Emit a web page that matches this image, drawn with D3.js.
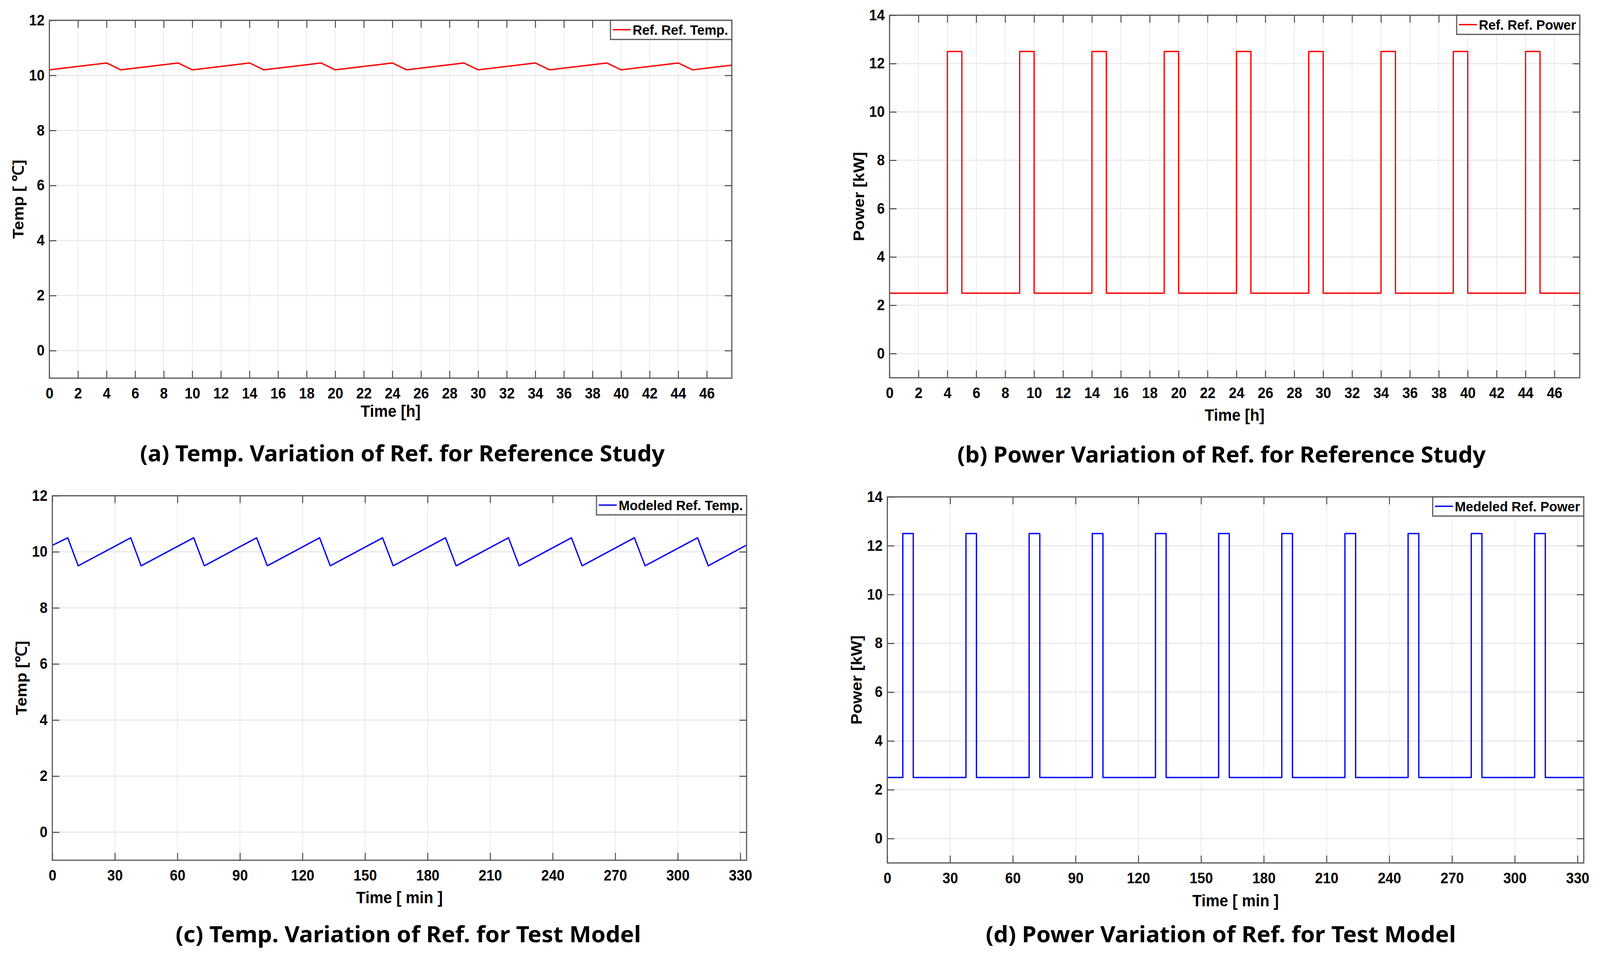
<!DOCTYPE html>
<html>
<head>
<meta charset="utf-8">
<script src="https://cdn.jsdelivr.net/npm/d3@7"></script>
<style>
html, body { margin: 0; padding: 0; background: #fff; overflow: hidden; }
#fig { display: block; width: 100vw; height: 100vh; }
text { font-family: "Liberation Sans", Arial, sans-serif; font-weight: bold; fill: #000; }
.caption { font-family: "Noto Sans", "Liberation Sans", sans-serif; }
</style>
</head>
<body>
<svg id="fig" viewBox="0 0 4342 2460" preserveAspectRatio="none"></svg>
<script>
'use strict';

// (a) reference study, temperature [C] vs time [h]
var refTempTime = [0, 4, 5, 9, 10, 14, 15, 19, 20, 24, 25, 29, 30, 34, 35, 39, 40, 44, 45, 47.75];
var refTempVal = [10.2, 10.45, 10.2, 10.45, 10.2, 10.45, 10.2, 10.45, 10.2, 10.45, 10.2,
                  10.45, 10.2, 10.45, 10.2, 10.45, 10.2, 10.45, 10.2, 10.37];

// (b) reference study, power [kW] vs time [h]
var refPowerTime = [0, 4, 5, 9, 10, 14, 15, 19, 20, 24, 25, 29, 30, 34, 35, 39, 40, 44, 45, 47.75];
var refPowerVal = [2.5, 12.5, 2.5, 12.5, 2.5, 12.5, 2.5, 12.5, 2.5, 12.5, 2.5,
                   12.5, 2.5, 12.5, 2.5, 12.5, 2.5, 12.5, 2.5, 2.5];

// (c) test model, temperature [C] vs time [min]
var modTempTime = [0, 7.4, 12.4, 37.6, 42.6, 67.8, 72.9, 98.0, 103.1, 128.2, 133.3, 158.4,
                   163.5, 188.6, 193.7, 218.8, 223.9, 249.0, 254.1, 279.2, 284.3, 309.5, 314.6, 333];
var modTempVal = [10.23, 10.5, 9.5, 10.5, 9.5, 10.5, 9.5, 10.5, 9.5, 10.5, 9.5, 10.5,
                  9.5, 10.5, 9.5, 10.5, 9.5, 10.5, 9.5, 10.5, 9.5, 10.5, 9.5, 10.24];

// (d) test model, power [kW] vs time [min]
var modPowerTime = [0, 7.4, 12.4, 37.6, 42.6, 67.8, 72.9, 98.0, 103.1, 128.2, 133.3, 158.4,
                    163.5, 188.6, 193.7, 218.8, 223.9, 249.0, 254.1, 279.2, 284.3, 309.5, 314.6, 333];
var modPowerVal = [2.5, 12.5, 2.5, 12.5, 2.5, 12.5, 2.5, 12.5, 2.5, 12.5, 2.5, 12.5,
                   2.5, 12.5, 2.5, 12.5, 2.5, 12.5, 2.5, 12.5, 2.5, 12.5, 2.5, 2.5];

// tick labels
var hourTicks = [0, 2, 4, 6, 8, 10, 12, 14, 16, 18, 20, 22, 24, 26, 28, 30, 32, 34, 36, 38, 40, 42, 44, 46];
var minTicks = [0, 30, 60, 90, 120, 150, 180, 210, 240, 270, 300, 330];
var tempTicks = [0, 2, 4, 6, 8, 10, 12];
var powerTicks = [0, 2, 4, 6, 8, 10, 12, 14];

var panels = [
        {time: refTempTime, val: refTempVal, step: false, color: '#ff0000',
         xDomain: [0, 47.75], yDomain: [-1, 12], xTicks: hourTicks, yTicks: tempTicks,
         left: 134, right: 1986, top: 52, bottom: 968,
         xLabel: 'Time [h]', xLabelDy: 84, yLabel: 'Temp [ \u2103]', yLabelX: 49,
         legend: 'Ref. Ref. Temp.',
         caption: '(a) Temp. Variation of Ref. for Reference Study', capX: 1092, capY: 1160, capW: 1424},
        {time: refPowerTime, val: refPowerVal, step: true, color: '#ff0000',
         xDomain: [0, 47.75], yDomain: [-1, 14], xTicks: hourTicks, yTicks: powerTicks,
         left: 2414, right: 4287, top: 39, bottom: 967,
         xLabel: 'Time [h]', xLabelDy: 95, yLabel: 'Power [kW]', yLabelX: 2330,
         legend: 'Ref. Ref. Power',
         caption: '(b) Power Variation of Ref. for Reference Study', capX: 3315, capY: 1163, capW: 1434},
        {time: modTempTime, val: modTempVal, step: false, color: '#0000ff',
         xDomain: [0, 333], yDomain: [-1, 12], xTicks: minTicks, yTicks: tempTicks,
         left: 142, right: 2026, top: 1269, bottom: 2202,
         xLabel: 'Time [ min ]', xLabelDy: 95, yLabel: 'Temp [\u2103]', yLabelX: 57,
         legend: 'Modeled Ref. Temp.',
         caption: '(c) Temp. Variation of Ref. for Test Model', capX: 1108, capY: 2391, capW: 1263},
        {time: modPowerTime, val: modPowerVal, step: true, color: '#0000ff',
         xDomain: [0, 333], yDomain: [-1, 14], xTicks: minTicks, yTicks: powerTicks,
         left: 2408, right: 4298, top: 1272, bottom: 2209,
         xLabel: 'Time [ min ]', xLabelDy: 96, yLabel: 'Power [kW]', yLabelX: 2324,
         legend: 'Medeled Ref. Power',
         caption: '(d) Power Variation of Ref. for Test Model', capX: 3313, capY: 2391, capW: 1276}
];

var svg = d3.select('#fig');
var axisColor = '#555';
var tickLen = 19;

panels.forEach(drawPanel);

function drawPanel(p) {
        var x = d3.scaleLinear().domain(p.xDomain).range([p.left, p.right]);
        var y = d3.scaleLinear().domain(p.yDomain).range([p.bottom, p.top]);
        var g = svg.append('g');

        // grid
        g.append('g').selectAll('line')
                .data(p.xTicks)
                .enter().append('line')
                .attr('x1', function(d) { return x(d); })
                .attr('x2', function(d) { return x(d); })
                .attr('y1', p.top)
                .attr('y2', p.bottom)
                .attr('stroke', '#e8e8e8')
                .attr('stroke-width', 2);
        g.append('g').selectAll('line')
                .data(p.yTicks)
                .enter().append('line')
                .attr('x1', p.left)
                .attr('x2', p.right)
                .attr('y1', function(d) { return y(d); })
                .attr('y2', function(d) { return y(d); })
                .attr('stroke', '#e8e8e8')
                .attr('stroke-width', 3);

        // data line
        var line = d3.line()
                .x(function(d) { return x(d[0]); })
                .y(function(d) { return y(d[1]); })
                .curve(p.step ? d3.curveStepAfter : d3.curveLinear);
        g.append('path')
                .datum(d3.zip(p.time, p.val))
                .attr('d', line)
                .attr('fill', 'none')
                .attr('stroke', p.color)
                .attr('stroke-width', 3.5)
                .attr('stroke-linejoin', 'round');

        // axes, ticks pointing inward on all four sides
        var bottomAx = g.append('g')
                .attr('transform', 'translate(0,' + p.bottom + ')')
                .call(d3.axisBottom(x).tickValues(p.xTicks).tickSizeInner(-tickLen).tickSizeOuter(0).tickPadding(25));
        var topAx = g.append('g')
                .attr('transform', 'translate(0,' + p.top + ')')
                .call(d3.axisTop(x).tickValues(p.xTicks).tickSizeInner(-tickLen).tickSizeOuter(0).tickFormat(''));
        var leftAx = g.append('g')
                .attr('transform', 'translate(' + p.left + ',0)')
                .call(d3.axisLeft(y).tickValues(p.yTicks).tickSizeInner(-tickLen).tickSizeOuter(0).tickPadding(13));
        var rightAx = g.append('g')
                .attr('transform', 'translate(' + p.right + ',0)')
                .call(d3.axisRight(y).tickValues(p.yTicks).tickSizeInner(-tickLen).tickSizeOuter(0).tickFormat(''));

        [bottomAx, topAx, leftAx, rightAx].forEach(function(ax) {
                ax.select('.domain').remove();
                ax.selectAll('.tick line').attr('stroke', '#444').attr('stroke-width', 2.5);
                ax.selectAll('.tick text')
                        .attr('font-size', 38)
                        .attr('font-family', null)
                        .attr('fill', '#000');
        });

        g.append('rect')
                .attr('x', p.left)
                .attr('y', p.top)
                .attr('width', p.right - p.left)
                .attr('height', p.bottom - p.top)
                .attr('fill', 'none')
                .attr('stroke', axisColor)
                .attr('stroke-width', 3);

        // axis labels
        g.append('text')
                .attr('x', (p.left + p.right) / 2)
                .attr('y', p.bottom + p.xLabelDy + 15)
                .attr('text-anchor', 'middle')
                .attr('font-size', 42)
                .text(p.xLabel);
        g.append('text')
                .attr('transform', 'translate(' + (p.yLabelX + 15) + ',' + ((p.top + p.bottom) / 2) + ') rotate(-90)')
                .attr('text-anchor', 'middle')
                .attr('font-size', 42)
                .text(p.yLabel);

        // legend in the top right corner
        var leg = g.append('g');
        var legText = leg.append('text')
                .attr('font-size', 36)
                .attr('y', p.top + 37)
                .text(p.legend);
        var tw = legText.node().getComputedTextLength();
        var boxW = tw + 70;
        var bx = p.right - boxW;
        legText.attr('x', bx + 60);
        leg.insert('rect', 'text')
                .attr('x', bx)
                .attr('y', p.top)
                .attr('width', boxW)
                .attr('height', 49)
                .attr('fill', '#fff')
                .attr('stroke', axisColor)
                .attr('stroke-width', 3);
        leg.append('line')
                .attr('x1', bx + 6)
                .attr('x2', bx + 55)
                .attr('y1', p.top + 24)
                .attr('y2', p.top + 24)
                .attr('stroke', p.color)
                .attr('stroke-width', 3.5);

        // sub-figure caption
        svg.append('text')
                .attr('class', 'caption')
                .attr('x', p.capX)
                .attr('y', p.capY + 21)
                .attr('text-anchor', 'middle')
                .attr('font-size', 58)
                .attr('textLength', p.capW)
                .attr('lengthAdjust', 'spacingAndGlyphs')
                .text(p.caption);
}
</script>
</body>
</html>
